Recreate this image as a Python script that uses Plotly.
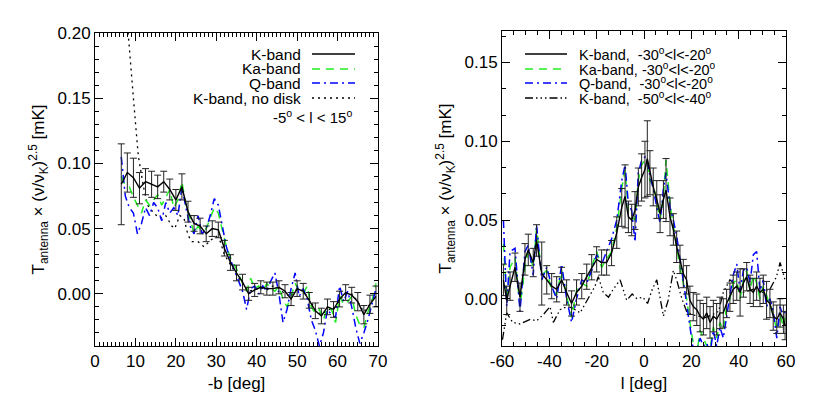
import plotly.graph_objects as go

# ---------------- Left panel data (-5 < l < 15) ----------------
b_k = [6.5, 8.0, 9.5, 11.0, 12.5, 14.0, 15.5, 17.0, 18.5, 20.0, 21.5, 23.0, 24.5, 26.0, 27.5,
       29.0, 30.5, 32.0, 33.5, 35.0, 36.5, 38.0, 39.5, 41.0, 42.5, 44.0, 45.5, 47.0, 48.5, 50.0,
       51.5, 53.0, 54.5, 56.0, 57.5, 59.0, 60.5, 62.0, 63.5, 65.0, 66.5, 68.0, 69.5]
k_left = [0.084, 0.093, 0.089, 0.081, 0.086, 0.084, 0.082, 0.086, 0.080, 0.072, 0.082, 0.063,
          0.054, 0.052, 0.046, 0.050, 0.049, 0.035, 0.024, 0.016, 0.009, 0.000, 0.003, 0.005,
          0.004, 0.004, 0.005, 0.002, -0.004, 0.004, 0.002, -0.005, -0.013, -0.017, -0.010,
          -0.012, -0.004, 0.001, -0.001, -0.006, -0.016, -0.008, -0.002]
k_left_err = [0.031, 0.015, 0.015, 0.012, 0.010, 0.010, 0.009, 0.008, 0.008, 0.008, 0.010, 0.008,
              0.006, 0.006, 0.006, 0.006, 0.006, 0.006, 0.006, 0.006, 0.006, 0.005, 0.005, 0.005,
              0.005, 0.005, 0.005, 0.005, 0.005, 0.006, 0.006, 0.006, 0.006, 0.006, 0.006, 0.006,
              0.006, 0.006, 0.006, 0.007, 0.007, 0.007, 0.008]

b_fine = [6.5, 7.5, 8.5, 9.5, 10.5, 11.5, 12.5, 13.5, 14.5, 15.5, 16.5, 17.5, 18.5, 19.5, 20.5,
          21.5, 22.5, 23.5, 24.5, 25.5, 26.5, 27.5, 28.5, 29.5, 30.5, 31.5, 32.5, 33.5, 34.5,
          35.5, 36.5, 37.5, 38.5, 39.5, 40.5, 41.5, 42.5, 43.5, 44.5, 45.5, 46.5, 47.5, 48.5,
          49.5, 50.5, 51.5, 52.5, 53.5, 54.5, 55.5, 56.5, 57.5, 58.5, 59.5, 60.5, 61.5, 62.5,
          63.5, 64.5, 65.5, 66.5, 67.5, 68.5, 69.5]
ka_left = [0.090, 0.083, 0.082, 0.074, 0.068, 0.062, 0.072, 0.068, 0.072, 0.076, 0.068, 0.074,
           0.080, 0.066, 0.072, 0.086, 0.068, 0.058, 0.046, 0.052, 0.048, 0.050, 0.058, 0.066,
           0.062, 0.050, 0.036, 0.028, 0.022, 0.016, 0.008, 0.002, 0.012, 0.004, 0.006, 0.002,
           0.008, 0.004, 0.002, 0.006, -0.004, -0.010, -0.002, 0.008, 0.002, 0.000, 0.006,
           -0.010, -0.015, -0.012, -0.020, -0.010, -0.012, -0.022, -0.002, -0.008, -0.006,
           -0.002, -0.016, -0.024, -0.026, -0.014, -0.006, 0.008]
q_left = [0.105, 0.075, 0.066, 0.062, 0.046, 0.054, 0.066, 0.060, 0.070, 0.066, 0.056, 0.070,
          0.062, 0.066, 0.060, 0.082, 0.066, 0.052, 0.046, 0.060, 0.046, 0.050, 0.060, 0.073,
          0.068, 0.052, 0.036, 0.026, 0.018, 0.010, 0.002, -0.012, 0.004, 0.006, 0.000, 0.006,
          0.002, 0.010, 0.016, 0.000, -0.022, -0.012, 0.004, 0.016, -0.002, 0.004, -0.004,
          -0.020, -0.028, -0.040, -0.030, -0.012, -0.016, -0.018, 0.006, -0.006, 0.002,
          -0.010, -0.026, -0.038, -0.030, -0.020, -0.008, 0.004]

b_nodisk = [7.0, 8.2, 9.5, 10.7, 12.0, 13.0, 14.5, 16.0, 17.5, 19.0, 19.7, 21.0, 22.0, 23.0,
            24.0, 25.5, 27.0, 28.5, 30.0, 31.0, 32.0, 33.5, 35.0, 36.5, 38.0, 39.5, 41.0, 42.5,
            44.0, 45.5, 47.0, 48.5, 50.0, 51.5, 53.0, 54.5, 56.0, 57.5, 59.0, 60.5, 62.0, 63.5,
            65.0, 66.5, 68.0, 69.5]
k_nodisk = [0.260, 0.200, 0.150, 0.106, 0.082, 0.068, 0.062, 0.058, 0.060, 0.052, 0.050, 0.060,
            0.058, 0.045, 0.040, 0.040, 0.036, 0.041, 0.044, 0.040, 0.030, 0.022, 0.015, 0.008,
            0.002, 0.003, 0.005, 0.003, 0.006, 0.004, 0.000, -0.002, 0.004, 0.002, -0.004,
            -0.012, -0.016, -0.012, -0.012, -0.005, 0.000, 0.000, -0.006, -0.014, -0.008, 0.002]

# ---------------- Right panel data ----------------
l_k = [-59.4, -58.0, -56.6, -54.5, -52.4, -50.3, -48.9, -46.8, -45.4, -43.2, -41.1, -39.0,
       -36.9, -34.8, -32.7, -30.6, -28.5, -26.3, -24.2, -22.1, -20.0, -17.9, -15.8, -13.7,
       -11.5, -9.4, -8.0, -6.6, -5.2, -3.8, -2.4, -1.0, 0.4, 1.4, 2.5, 3.9, 5.4, 6.8, 8.2, 9.3,
       11.0, 12.4, 13.8, 15.2, 16.6, 18.0, 19.4, 20.8, 22.3, 23.7, 25.1, 26.5, 27.9, 29.3,
       30.7, 32.1, 33.5, 34.9, 36.3, 37.7, 39.2, 40.6, 42.0, 43.4, 44.8, 46.2, 47.6, 49.0,
       50.4, 51.8, 53.2, 54.6, 56.1, 57.5, 58.9, 59.6]
k_right = [0.012, -0.001, 0.008, 0.020, 0.001, 0.025, 0.031, 0.023, 0.037, 0.016, 0.012, 0.008,
           0.006, 0.012, 0.004, -0.003, 0.004, 0.008, 0.014, 0.020, 0.025, 0.023, 0.023, 0.029,
           0.042, 0.058, 0.065, 0.052, 0.050, 0.056, 0.071, 0.077, 0.082, 0.089, 0.080, 0.071,
           0.063, 0.054, 0.063, 0.069, 0.052, 0.044, 0.033, 0.025, 0.016, 0.012, -0.001, -0.005,
           -0.007, -0.011, -0.013, -0.009, -0.015, -0.011, -0.013, -0.009, -0.009, -0.003,
           0.001, 0.006, 0.008, 0.004, 0.010, 0.014, 0.006, 0.004, 0.008, 0.004, 0.006, -0.001,
           -0.003, -0.011, -0.013, -0.009, -0.013, -0.017]
k_right_err = [0.010, 0.009, 0.009, 0.009, 0.009, 0.010, 0.010, 0.009, 0.010, 0.020, 0.009,
               0.008, 0.008, 0.008, 0.008, 0.008, 0.008, 0.008, 0.008, 0.008, 0.008, 0.008,
               0.008, 0.008, 0.010, 0.012, 0.020, 0.010, 0.010, 0.012, 0.012, 0.015, 0.018,
               0.024, 0.014, 0.012, 0.012, 0.012, 0.012, 0.020, 0.012, 0.010, 0.010, 0.009,
               0.009, 0.009, 0.009, 0.009, 0.010, 0.010, 0.010, 0.010, 0.010, 0.010, 0.010,
               0.010, 0.009, 0.009, 0.009, 0.009, 0.009, 0.015, 0.009, 0.009, 0.009, 0.009,
               0.009, 0.009, 0.009, 0.012, 0.009, 0.009, 0.009, 0.009, 0.009, 0.009]
ka_right = [0.035, 0.000, 0.020, 0.026, -0.005, 0.020, 0.030, 0.020, 0.045, 0.015, 0.018, 0.005,
            0.003, 0.018, 0.002, -0.012, 0.005, 0.010, 0.008, 0.020, 0.030, 0.020, 0.025, 0.030,
            0.045, 0.070, 0.082, 0.055, 0.052, 0.050, 0.075, 0.085, 0.088, 0.085, 0.075, 0.072,
            0.062, 0.050, 0.065, 0.088, 0.060, 0.045, 0.033, 0.020, 0.010, 0.000, -0.015, -0.028,
            -0.035, -0.020, -0.025, -0.030, -0.032, -0.018, -0.025, -0.015, -0.020, -0.005,
            0.000, 0.010, 0.012, 0.000, 0.012, 0.018, 0.005, 0.015, 0.010, 0.000, 0.008, 0.002,
            -0.005, -0.010, -0.020, -0.010, -0.018, -0.012]
q_right = [0.050, -0.005, 0.030, 0.032, -0.008, 0.030, 0.034, 0.015, 0.047, 0.012, 0.020, 0.008,
           0.000, 0.022, 0.000, -0.015, 0.000, 0.012, 0.010, 0.018, 0.028, 0.022, 0.030, 0.038,
           0.050, 0.075, 0.085, 0.060, 0.056, 0.036, 0.080, 0.088, 0.090, 0.087, 0.078, 0.070,
           0.058, 0.048, 0.070, 0.080, 0.058, 0.050, 0.040, 0.025, 0.012, -0.002, -0.018,
           -0.032, -0.033, -0.025, -0.030, -0.028, -0.035, -0.020, -0.030, -0.018, -0.025,
           -0.010, 0.002, 0.015, 0.022, 0.005, 0.018, 0.020, 0.010, 0.028, 0.030, 0.005, 0.012,
           -0.005, 0.000, -0.008, -0.025, -0.005, -0.012, -0.008]

l_far = [-59.8, -59.4, -58.0, -55.5, -52.4, -48.0, -45.4, -42.5, -39.7, -38.3, -35.5, -32.5,
         -30.0, -27.0, -24.0, -20.7, -19.3, -17.2, -15.0, -13.0, -10.1, -8.5, -7.3, -5.0, -3.0,
         -0.5, 1.5, 3.5, 5.4, 8.2, 10.2, 12.4, 13.8, 16.0, 18.0, 20.0, 23.0, 26.0, 29.0, 31.5,
         33.5, 36.3, 39.2, 42.0, 46.2, 50.4, 53.2, 56.0, 57.5, 59.6]
k_far = [-0.026, -0.022, -0.009, -0.015, -0.016, -0.013, -0.014, -0.010, -0.005, -0.015, -0.007,
         -0.005, -0.006, -0.009, -0.001, 0.008, 0.014, 0.004, 0.001, 0.006, 0.012, 0.004, -0.001,
         0.003, 0.000, 0.001, -0.003, 0.006, 0.012, -0.011, -0.001, 0.018, 0.012, 0.000, -0.008,
         -0.010, -0.011, -0.012, -0.010, -0.008, 0.004, 0.012, 0.008, 0.004, 0.006, 0.004, 0.006,
         0.014, 0.023, 0.012]

# tick labels for the right x axis (plain hyphen minus, as in the reference)
l_tickvals = [-60, -40, -20, 0, 20, 40, 60]
l_ticktext = ["-60", "-40", "-20", "0", "20", "40", "60"]

GREEN = "#22ee22"
BLUE = "#0000ff"
FONT = "Liberation Sans, Arial, Helvetica, sans-serif"

fig = go.Figure()

# left panel traces
fig.add_trace(go.Scatter(x=b_nodisk, y=k_nodisk, mode="lines", xaxis="x", yaxis="y",
                         line=dict(color="black", width=1.3, dash="2px,4px"), showlegend=False))
fig.add_trace(go.Scatter(x=b_fine, y=ka_left, mode="lines", xaxis="x", yaxis="y",
                         line=dict(color=GREEN, width=1.5, dash="8px,6px"), showlegend=False))
fig.add_trace(go.Scatter(x=b_fine, y=q_left, mode="lines", xaxis="x", yaxis="y",
                         line=dict(color=BLUE, width=1.5, dash="8px,4px,2px,4px"), showlegend=False))
fig.add_trace(go.Scatter(x=b_k, y=k_left, mode="lines", xaxis="x", yaxis="y",
                         line=dict(color="black", width=1.4),
                         error_y=dict(type="data", array=k_left_err, color="#222222",
                                      thickness=1, width=3.5),
                         showlegend=False))

# right panel traces
fig.add_trace(go.Scatter(x=l_far, y=k_far, mode="lines", xaxis="x2", yaxis="y2",
                         line=dict(color="black", width=1.3,
                                   dash="8px,3px,1.5px,3px,1.5px,3px,1.5px,3px"),
                         showlegend=False))
fig.add_trace(go.Scatter(x=l_k, y=ka_right, mode="lines", xaxis="x2", yaxis="y2",
                         line=dict(color=GREEN, width=1.5, dash="8px,6px"), showlegend=False))
fig.add_trace(go.Scatter(x=l_k, y=q_right, mode="lines", xaxis="x2", yaxis="y2",
                         line=dict(color=BLUE, width=1.5, dash="8px,4px,2px,4px"), showlegend=False))
fig.add_trace(go.Scatter(x=l_k, y=k_right, mode="lines", xaxis="x2", yaxis="y2",
                         line=dict(color="black", width=1.4),
                         error_y=dict(type="data", array=k_right_err, color="#222222",
                                      thickness=1, width=3.5),
                         showlegend=False))

# page has an 8px body margin: the figure starts at (8, 8) of the window
OFF = 8
W, H = 814 - OFF, 407 - OFF


def px(x):
    return (x - OFF) / W


def py(y):
    return 1 - (y - OFF) / H


axis_common = dict(showline=True, linecolor="black", linewidth=1, mirror="ticks",
                   ticks="inside", ticklen=8, tickcolor="black", tickwidth=1,
                   showgrid=False, zeroline=False, automargin=False,
                   tickfont=dict(family=FONT, size=17, color="black"))

ytitle = "T<sub>antenna</sub> × (ν/ν<sub>K</sub>)<sup>2.5</sup> [mK]"

fig.update_layout(
    width=W, height=H,
    margin=dict(l=0, r=0, t=0, b=0),
    paper_bgcolor="white", plot_bgcolor="white",
    font=dict(family=FONT, color="black"),
    xaxis=dict(domain=[px(95), px(378)], anchor="y", range=[0, 70], tick0=0, dtick=10,
               minor=dict(ticks="inside", ticklen=4, tick0=0, dtick=1, tickcolor="black"),
               title=dict(text="-b [deg]", font=dict(family=FONT, size=17), standoff=6),
               **axis_common),
    yaxis=dict(domain=[py(346), py(33)], anchor="x", range=[-0.04, 0.20], tick0=0, dtick=0.05,
               tickformat=".2f",
               minor=dict(ticks="inside", ticklen=4, tick0=0, dtick=0.01, tickcolor="black"),
               title=dict(text=ytitle, font=dict(family=FONT, size=17), standoff=8),
               **axis_common),
    xaxis2=dict(domain=[px(502), px(786)], anchor="y2", range=[-60, 60],
                tickmode="array", tickvals=l_tickvals, ticktext=l_ticktext,
                minor=dict(ticks="inside", ticklen=4, tick0=0, dtick=5, tickcolor="black"),
                title=dict(text="l [deg]", font=dict(family=FONT, size=17), standoff=6),
                **axis_common),
    yaxis2=dict(domain=[py(346), py(31)], anchor="x2", range=[-0.03, 0.17], tick0=0, dtick=0.05,
                tickformat=".2f",
                minor=dict(ticks="inside", ticklen=4, tick0=0, dtick=0.05 / 3, tickcolor="black"),
                title=dict(text=ytitle, font=dict(family=FONT, size=17), standoff=8),
                **axis_common),
)

# ---- manual legends (text + line sample), matching the reference layout ----
left_items = [("K-band", "black", None), ("Ka-band", GREEN, "8px,6px"),
              ("Q-band", BLUE, "8px,4px,2px,4px"), ("K-band, no disk", "black", "2px,4px")]
left_y = [54, 69, 83, 98]
shapes = []
annotations = []
for (txt, col, dash), yy in zip(left_items, left_y):
    annotations.append(dict(x=px(303), y=py(yy), xref="paper", yref="paper", text=txt,
                            showarrow=False, xanchor="right", yanchor="middle",
                            font=dict(family=FONT, size=15.5, color="black")))
    shapes.append(dict(type="line", xref="paper", yref="paper", x0=px(312), x1=px(355),
                       y0=py(yy), y1=py(yy),
                       line=dict(color=col, width=1.5, dash=dash if dash else "solid")))
annotations.append(dict(x=px(354), y=py(117), xref="paper", yref="paper",
                        text="-5<sup>o</sup> < l < 15<sup>o</sup>", showarrow=False,
                        xanchor="right", yanchor="middle",
                        font=dict(family=FONT, size=15, color="black")))

right_items = [("K-band,&nbsp; -30<sup>o</sup><l<-20<sup>o</sup>", "black", None),
               ("Ka-band, -30<sup>o</sup><l<-20<sup>o</sup>", GREEN, "8px,6px"),
               ("Q-band,&nbsp; -30<sup>o</sup><l<-20<sup>o</sup>", BLUE, "8px,4px,2px,4px"),
               ("K-band,&nbsp; -50<sup>o</sup><l<-40<sup>o</sup>", "black",
                "8px,3px,1.5px,3px,1.5px,3px,1.5px,3px")]
right_y = [54, 69, 83, 98]
for (txt, col, dash), yy in zip(right_items, right_y):
    annotations.append(dict(x=px(577), y=py(yy), xref="paper", yref="paper",
                            text=txt,
                            showarrow=False, xanchor="left", yanchor="middle",
                            font=dict(family=FONT, size=14.5, color="black")))
    shapes.append(dict(type="line", xref="paper", yref="paper", x0=px(525), x1=px(567),
                       y0=py(yy), y1=py(yy),
                       line=dict(color=col, width=1.5, dash=dash if dash else "solid")))

fig.update_layout(shapes=shapes, annotations=annotations)

fig.write_html("out.html")
